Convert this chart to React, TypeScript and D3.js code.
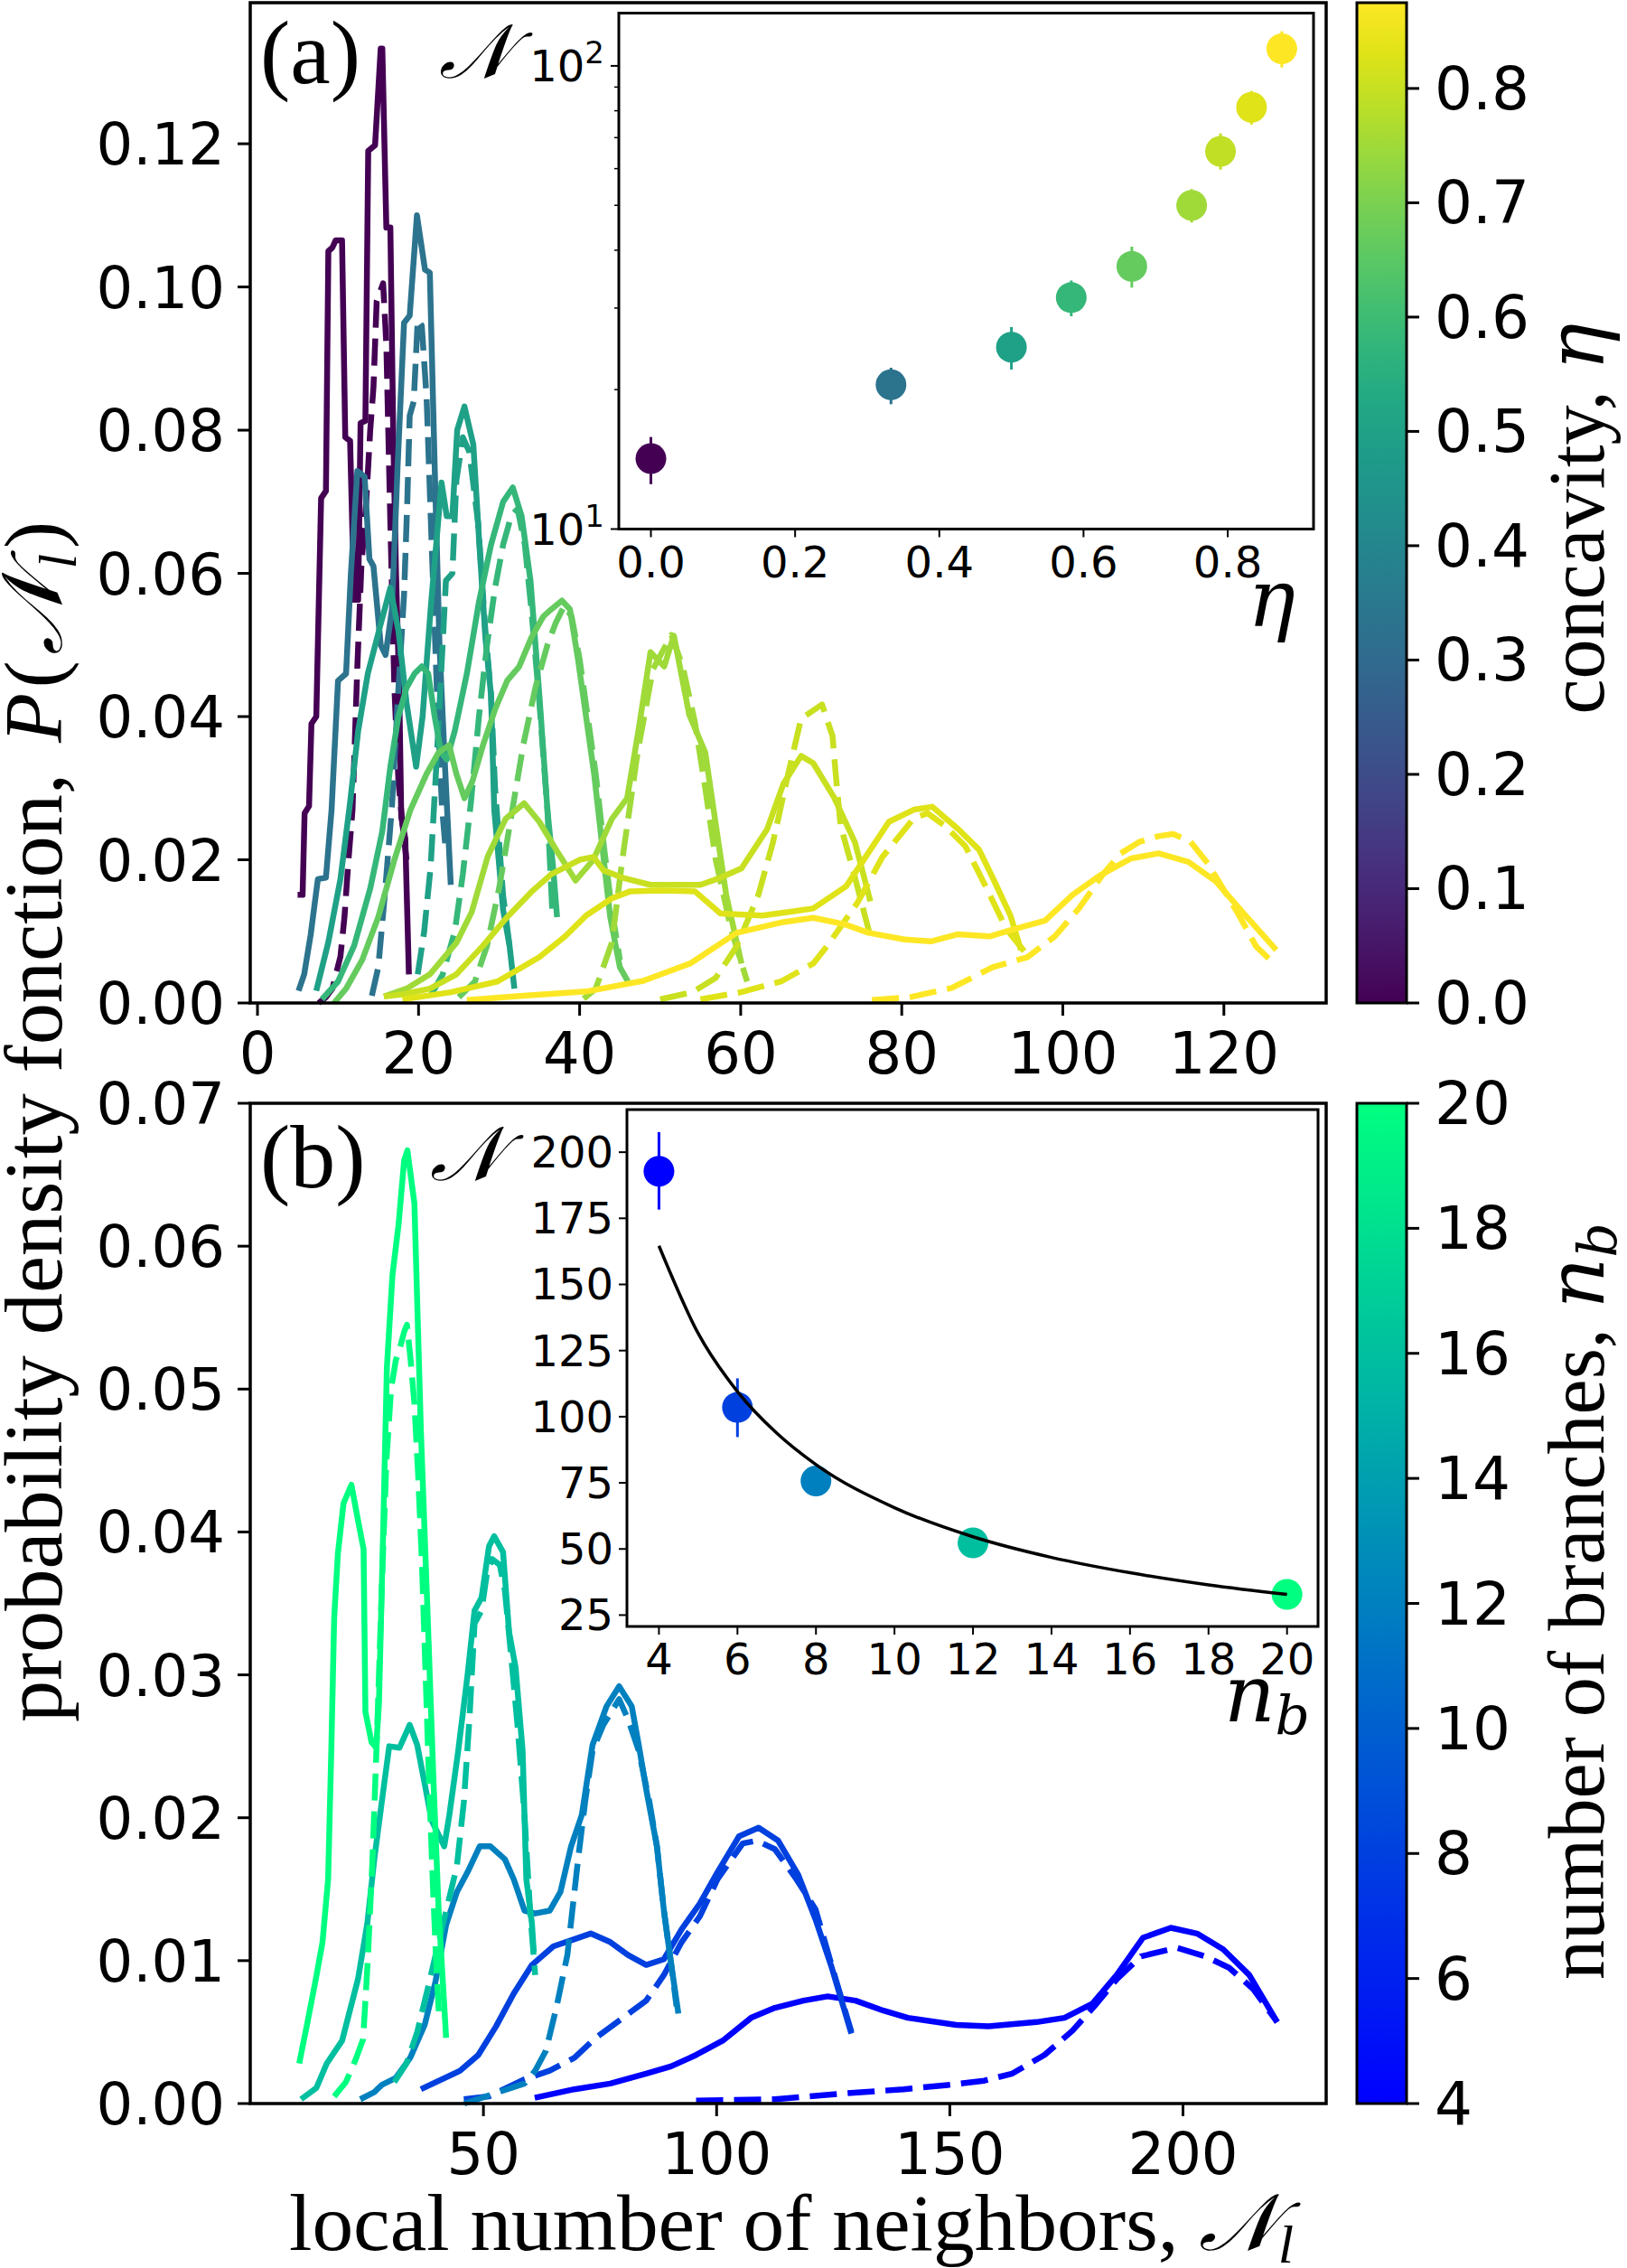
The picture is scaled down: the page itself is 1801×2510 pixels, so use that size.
import React from 'react';
import * as d3 from 'd3';

// ---------------- DATA ----------------
// Panel (a): concavity values and distributions (solid = measured, dashed = model)
const A_ETA = [0, 1 / 3, 0.5, 7 / 12, 2 / 3, 0.75, 0.8, 5 / 6, 0.875];

const A0_SOLID = [[4.98,0.0151],[5.6,0.0151],[5.85,0.0265],[6.4,0.0275],[6.7,0.039],[7.3,0.040],[7.9,0.0705],[8.5,0.0715],[8.8,0.105],[9.3,0.1055],[9.7,0.1065],[10.5,0.1065],[10.9,0.079],[11.5,0.0785],[12.0,0.0563],[12.5,0.0563],[12.8,0.081],[13.4,0.0813],[13.75,0.119],[14.6,0.1198],[15.3,0.1333],[15.5,0.1333],[16.0,0.1083],[16.5,0.1083],[16.85,0.080],[17.2,0.060],[17.6,0.044],[17.85,0.026],[18.35,0.023],[18.8,0.004]];
const A0_DASH = [[7.6,0.0],[8.5,0.0008],[9.3,0.002],[10.3,0.0065],[10.8,0.012],[11.3,0.02],[11.8,0.027],[12.4,0.047],[12.9,0.061],[13.5,0.070],[14.0,0.080],[14.4,0.086],[14.8,0.098],[15.6,0.1005],[16.0,0.092],[16.5,0.067],[17.0,0.044],[17.5,0.031],[18.0,0.025],[18.5,0.020]];
const A1_SOLID = [[5.1,0.0017],[5.8,0.004],[6.6,0.0095],[7.5,0.0173],[8.5,0.0175],[9.2,0.027],[10.0,0.045],[11.0,0.046],[11.6,0.060],[12.4,0.0743],[13.3,0.0735],[13.9,0.062],[14.4,0.061],[15.3,0.050],[15.9,0.0486],[16.7,0.055],[17.4,0.075],[18.2,0.095],[18.9,0.096],[19.8,0.110],[20.8,0.1024],[21.4,0.102],[22.0,0.075],[22.6,0.05],[23.2,0.035],[24.0,0.0165]];
const A1_DASH = [[14.2,0.001],[15.0,0.005],[15.8,0.015],[16.7,0.0275],[17.4,0.042],[18.2,0.057],[18.6,0.07],[18.9,0.082],[19.4,0.084],[19.9,0.0954],[20.4,0.0946],[21.0,0.0845],[21.6,0.065],[22.3,0.043],[22.9,0.0275],[23.4,0.021]];
const A2_SOLID = [[7.3,0.0017],[8.8,0.0085],[10.3,0.0173],[11.5,0.028],[12.5,0.038],[13.7,0.046],[15.2,0.0525],[16.5,0.058],[17.5,0.052],[18.5,0.042],[19.7,0.033],[20.5,0.040],[21.5,0.055],[22.85,0.0727],[23.5,0.068],[24.2,0.068],[24.8,0.080],[25.7,0.0833],[26.8,0.078],[27.5,0.065],[28.3,0.051],[29.0,0.043],[29.4,0.027],[30.5,0.013],[31.3,0.008],[31.9,0.002]];
const A2_DASH = [[19.9,0.004],[20.7,0.010],[21.5,0.019],[22.3,0.035],[23.4,0.059],[24.2,0.060],[24.7,0.073],[25.5,0.079],[26.3,0.077],[27.4,0.067],[28.3,0.052],[29.0,0.043],[29.5,0.030],[30.5,0.015],[31.3,0.008]];
const A3_SOLID = [[8.0,0.0005],[10,0.003],[12,0.008],[14,0.016],[15.5,0.024],[16.5,0.033],[17.5,0.040],[18.5,0.044],[19.5,0.046],[20.4,0.047],[21.2,0.046],[22,0.040],[22.8,0.035],[23.5,0.034],[24.5,0.038],[26,0.046],[27.5,0.056],[29,0.064],[30.5,0.070],[31.7,0.072],[32.8,0.068],[33.9,0.059],[35,0.043],[36,0.027],[36.7,0.019],[37.2,0.012]];
const A3_DASH = [[21.5,0.001],[23,0.004],[24.5,0.010],[25.5,0.018],[26.5,0.028],[27.5,0.040],[28.5,0.050],[29.5,0.058],[30.5,0.064],[31.5,0.068],[32.3,0.069],[33.2,0.064],[34,0.055],[35,0.042],[36,0.027],[36.6,0.013]];
const A4_SOLID = [[9.5,0.0],[11,0.002],[13,0.006],[15,0.012],[17,0.020],[19,0.027],[21,0.032],[22.5,0.035],[23.8,0.036],[24.7,0.032],[25.7,0.0286],[26.7,0.031],[28,0.036],[29.5,0.041],[31,0.045],[32.5,0.047],[34,0.051],[35.5,0.054],[36.5,0.055],[37.8,0.0562],[38.8,0.055],[39.8,0.048],[40.8,0.040],[41.8,0.032],[42.8,0.022],[43.8,0.012],[45,0.005],[46,0.003]];
const A4_DASH = [[25,0.0008],[27,0.003],[28.5,0.008],[30,0.016],[31.5,0.026],[33,0.036],[34.5,0.044],[36,0.050],[37,0.053],[38.1,0.0555],[39,0.054],[40,0.048],[41,0.040],[42,0.032],[43,0.022],[44,0.013],[45,0.006]];
const A5_SOLID = [[15.7,0.0009],[18.5,0.002],[21.4,0.004],[24.7,0.0084],[26.6,0.0127],[28.6,0.0205],[30.8,0.0257],[33.1,0.0279],[35,0.0253],[37.3,0.021],[39.5,0.0171],[41.7,0.020],[44,0.0257],[45.9,0.0286],[47.3,0.038],[48.8,0.049],[50.5,0.047],[51.7,0.0513],[53.6,0.0403],[55.6,0.035],[56.9,0.025],[58.2,0.0151],[60.1,0.0055]];
const A5_DASH = [[40.5,0.0006],[42,0.002],[44,0.0084],[45.3,0.020],[47.2,0.035],[49.1,0.0466],[51.4,0.0514],[52.8,0.047],[54.3,0.0393],[55.6,0.030],[56.9,0.020],[58.8,0.0103],[60.8,0.003]];
const A6_SOLID = [[15.7,0.0009],[18,0.0012],[21.4,0.002],[24.7,0.004],[28,0.008],[31,0.012],[34,0.0155],[36.5,0.018],[38.3,0.019],[40,0.020],[41.7,0.0204],[43,0.0185],[45.3,0.0175],[48.8,0.0165],[52,0.0165],[55,0.0165],[57.5,0.0175],[60.1,0.0188],[63.3,0.0243],[65.3,0.0306],[67.5,0.0345],[69,0.0335],[71.6,0.0287],[74.2,0.0224],[76.1,0.0142]];
const A6_DASH = [[50,0.0005],[54,0.0015],[56.9,0.0035],[59.5,0.0079],[62.2,0.0151],[64,0.0224],[65.9,0.032],[67.5,0.0397],[70.1,0.0417],[71.4,0.0373],[71.8,0.032],[72.4,0.0248],[74.2,0.0175],[76.3,0.0084]];
const A7_SOLID = [[18,0.0005],[24,0.0015],[29.8,0.003],[35,0.0064],[38.2,0.0093],[40.8,0.0122],[44,0.0146],[46.3,0.0156],[50,0.0157],[54.3,0.0156],[57.5,0.0125],[62.7,0.0122],[66.6,0.0128],[69,0.0132],[73.1,0.0163],[78.4,0.0253],[81.5,0.027],[83.8,0.0274],[87,0.0243],[89.6,0.0214],[91.5,0.017],[93.5,0.0122],[94.8,0.0074]];
const A7_DASH = [[55,0.0005],[60,0.0015],[65,0.003],[69,0.0055],[70.7,0.0079],[74.5,0.014],[77.6,0.0204],[81.5,0.0258],[83.2,0.0265],[85.3,0.0248],[87.9,0.0219],[90.5,0.0161],[93,0.0103],[95.8,0.0064]];
const A8_SOLID = [[26,0.0004],[33,0.001],[40.8,0.0016],[47.9,0.0031],[53.7,0.0055],[59.5,0.0098],[65.3,0.0113],[69,0.0119],[72.9,0.011],[75.9,0.0098],[80.2,0.0089],[83.6,0.0086],[87,0.0096],[90.9,0.0093],[93.9,0.0103],[97.8,0.0115],[101.2,0.0151],[104.6,0.0178],[108.5,0.0202],[111.9,0.0209],[115.6,0.0197],[119,0.017],[122.7,0.0122],[126.5,0.0074]];
const A8_DASH = [[76.3,0.0004],[81,0.0008],[86.2,0.0021],[91.3,0.005],[95.6,0.0064],[99,0.0093],[102,0.0132],[105,0.018],[107.2,0.0209],[109.5,0.0225],[111.9,0.0233],[113.7,0.0236],[115.8,0.0226],[118,0.0195],[120.1,0.0156],[122,0.012],[124,0.0079],[126.5,0.0052]];

const A_SOLID = [A0_SOLID, A1_SOLID, A2_SOLID, A3_SOLID, A4_SOLID, A5_SOLID, A6_SOLID, A7_SOLID, A8_SOLID];
const A_DASH = [A0_DASH, A1_DASH, A2_DASH, A3_DASH, A4_DASH, A5_DASH, A6_DASH, A7_DASH, A8_DASH];

// Panel (b): number of branches
const B_NB = [4, 6, 8, 12, 20];
const B4_SOLID = [[61,0.0004],[69.5,0.001],[77.2,0.0014],[84.9,0.0021],[90.2,0.0026],[95.6,0.0034],[101.3,0.0044],[107.4,0.006],[112.5,0.0067],[118.6,0.0072],[123.8,0.0075],[129.8,0.0072],[135.8,0.0065],[141,0.006],[151.4,0.0055],[158.3,0.0054],[168.6,0.0057],[174.6,0.006],[180.6,0.007],[185.8,0.009],[191.4,0.0116],[197.4,0.0123],[203,0.0119],[208.6,0.0108],[214.2,0.009],[220.2,0.0057]];
const B4_DASH = [[95.6,0.0002],[112.5,0.0003],[127.2,0.0007],[140.1,0.001],[149.6,0.0013],[157.4,0.0016],[163.4,0.0021],[170.3,0.0034],[176.3,0.0051],[181.5,0.007],[185.8,0.0087],[191,0.0103],[198.7,0.0109],[204.8,0.0103],[209.9,0.0095],[215.1,0.008],[220.2,0.0057]];
const B6_SOLID = [[36.6,0.001],[45,0.0023],[48.9,0.0034],[52.7,0.0054],[56.5,0.0077],[60.4,0.0097],[65,0.011],[69.5,0.0115],[73,0.0119],[77.2,0.0113],[81,0.0104],[84.9,0.0097],[88.7,0.0101],[92.5,0.0122],[96.4,0.014],[100.2,0.0162],[104.8,0.0187],[109,0.0193],[113.2,0.0184],[117.5,0.016],[121.2,0.0129],[124.6,0.0096],[128.9,0.0049]];
const B6_DASH = [[45.8,0.0003],[51.2,0.0005],[58.8,0.0017],[64.2,0.0023],[69.5,0.0032],[74.1,0.0046],[79.5,0.0059],[84.9,0.0072],[88.7,0.009],[92.5,0.0113],[96.4,0.0131],[100.2,0.0157],[105.6,0.0182],[108.6,0.0184],[112.5,0.0178],[117.1,0.0157],[121.2,0.0136],[125,0.0093],[128.9,0.005]];
const B8_SOLID = [[23.6,0.0003],[26.6,0.0008],[28.2,0.0013],[31.2,0.0018],[34.3,0.0032],[37.4,0.0055],[39.7,0.0085],[42,0.0125],[44.3,0.0148],[46.6,0.0162],[49.2,0.018],[51.5,0.018],[54.6,0.0171],[56.5,0.0157],[58.8,0.0135],[61.1,0.0133],[64.2,0.0135],[66.5,0.0148],[68.8,0.018],[71.1,0.0202],[73.4,0.0251],[76.4,0.0278],[79.1,0.0292],[81.8,0.0278],[83.3,0.0251],[84.9,0.022],[87.2,0.018],[88.7,0.0135],[90.2,0.0099],[91.8,0.0063]];
const B8_DASH = [[45.9,0.0],[54.2,0.0009],[58.8,0.0014],[61.1,0.0023],[63.4,0.0037],[65.7,0.0068],[68,0.0104],[70.3,0.0171],[71.8,0.0211],[73.4,0.0247],[75.7,0.0265],[79.1,0.0283],[81,0.0269],[83.3,0.0247],[85.6,0.0211],[87.2,0.018],[88.7,0.0135],[90.2,0.0099],[91.4,0.0068]];
const B12_SOLID = [[10.9,0.0003],[14.2,0.0011],[16.4,0.0028],[19.7,0.0044],[23.1,0.0087],[25.1,0.0126],[26.6,0.0171],[28.2,0.0211],[29.8,0.025],[32,0.0249],[34.2,0.0265],[35.8,0.0251],[37.4,0.0224],[38.9,0.0198],[41.6,0.018],[42.7,0.0202],[44.6,0.0247],[46.6,0.030],[48.1,0.0345],[49.6,0.0354],[51.2,0.039],[52.3,0.0397],[54.2,0.0386],[55.5,0.033],[56.9,0.0305],[58.4,0.0247],[59.2,0.0157],[60.4,0.0126],[60.8,0.0106]];
const B12_DASH = [[30.9,0.0015],[33.5,0.0028],[35.8,0.005],[38.1,0.0081],[40.4,0.0113],[44.3,0.0166],[45.8,0.0211],[47,0.0269],[48.1,0.0336],[49.6,0.0345],[50.8,0.0372],[51.9,0.0381],[53.5,0.0377],[54.6,0.0359],[55.8,0.0318],[57.3,0.0265],[58.8,0.0202],[60,0.0135],[61.1,0.009]];
const B20_SOLID = [[10.5,0.0028],[12.1,0.0054],[14.0,0.0086],[15.5,0.0113],[16.7,0.0157],[17.4,0.025],[18.0,0.034],[18.8,0.0385],[20.0,0.042],[21.7,0.0433],[23.0,0.041],[24.3,0.0388],[24.7,0.0274],[26.0,0.0253],[27.0,0.0249],[27.6,0.028],[28.5,0.040],[29.3,0.0515],[30.5,0.058],[31.8,0.0615],[33.0,0.066],[33.7,0.0667],[35.2,0.063],[36.6,0.047],[38.1,0.0336],[39.3,0.0225],[40.4,0.0135],[42.0,0.0046]];
const B20_DASH = [[18.0,0.0005],[20.5,0.0015],[22.5,0.003],[24.2,0.0045],[25.2,0.010],[26.2,0.017],[27.2,0.026],[28.2,0.036],[29.2,0.045],[30.2,0.050],[31.2,0.052],[32.2,0.053],[33.0,0.054],[33.6,0.0545],[34.4,0.052],[35.2,0.049],[36.0,0.044],[36.8,0.038],[37.6,0.030],[38.4,0.022],[39.2,0.015],[40.0,0.009],[40.5,0.006]];

const B_SOLID = [B4_SOLID, B6_SOLID, B8_SOLID, B12_SOLID, B20_SOLID];
const B_DASH = [B4_DASH, B6_DASH, B8_DASH, B12_DASH, B20_DASH];

// Inset (a): mean number of neighbours vs concavity
const IA_ETA = [0, 0.333, 0.5, 0.583, 0.667, 0.75, 0.79, 0.833, 0.875];
const IA_N = [14.2, 20.5, 24.7, 31.6, 36.9, 50.0, 65.4, 81.4, 108.9];
const IA_LO = [12.5, 18.6, 22.1, 28.8, 33.2, 45.9, 59.7, 74.7, 99.2];
const IA_HI = [15.8, 22.3, 27.3, 34.4, 40.7, 54.2, 71.5, 88.3, 118.8];

// Inset (b): mean number of neighbours vs number of branches
const IB_NB = [4, 6, 8, 12, 20];
const IB_N = [192.8, 103.5, 75.7, 52.3, 32.8];
const IB_LO = [178.3, 92.3, 72.5, 51.5, 32.0];
const IB_HI = [207.6, 114.5, 78.5, 53.0, 33.5];
const FIT_NB = [4, 5, 6, 7, 8, 10, 12, 14, 16, 18, 20];
const FIT_N = [164.6, 131.5, 109.5, 93.8, 81.9, 65.6, 54.6, 46.8, 41.0, 36.4, 32.8];

// Tick values
const A_XTICKS = [0, 20, 40, 60, 80, 100, 120];
const A_YTICKS = [0, 0.02, 0.04, 0.06, 0.08, 0.10, 0.12];
const B_XTICKS = [50, 100, 150, 200];
const B_YTICKS = [0, 0.01, 0.02, 0.03, 0.04, 0.05, 0.06, 0.07];
const CA_TICKS = [0, 0.1, 0.2, 0.3, 0.4, 0.5, 0.6, 0.7, 0.8];
const CB_TICKS = [4, 6, 8, 10, 12, 14, 16, 18, 20];
const IA_XTICKS = [0, 0.2, 0.4, 0.6, 0.8];
const IA_YMINOR = [20, 30, 40, 50, 60, 70, 80, 90];
const IB_XTICKS = [4, 6, 8, 10, 12, 14, 16, 18, 20];
const IB_YTICKS = [25, 50, 75, 100, 125, 150, 175, 200];

// ---------------- STYLE ----------------
const SANS = "'DejaVu Sans', sans-serif";
const SERIF = "'Liberation Serif', 'DejaVu Serif', serif";
const MATH = "'DejaVu Serif', 'Liberation Serif', serif";
const TICK_FS = 64;
const CBAR_FS = 66;
const INSET_FS = 48;
const LABEL_FS = 88;
const LW = 6.5;
const DASH = '30 12';

const winter = (t: number) => d3.rgb(0, Math.round(255 * t), Math.round(255 * (1 - 0.5 * t))).toString();
const viridisEta = (e: number) => d3.interpolateViridis(e / 0.875);

// ---------------- LAYOUT ----------------
const PA = { l: 277, r: 1468, t: 3, b: 1110 };
const PB = { l: 277, r: 1468, t: 1221, b: 2328 };
const IA = { l: 685, r: 1454, t: 14.5, b: 585.5 };
const IB = { l: 694, r: 1459, t: 1228, b: 1800 };
const CB = { l: 1502, r: 1557 };

export default function App() {
  const xA = d3.scaleLinear().domain([-0.9, 132.7]).range([PA.l, PA.r]);
  const yA = d3.scaleLinear().domain([0, 0.1397]).range([PA.b, PA.t]);
  const xB = d3.scaleLinear().domain([0, 230.7]).range([PB.l, PB.r]);
  const yB = d3.scaleLinear().domain([0, 0.07]).range([PB.b, PB.t]);
  const xIA = d3.scaleLinear().domain([-0.0445, 0.919]).range([IA.l, IA.r]);
  const yIA = d3.scaleLog().domain([10, 130]).range([IA.b, IA.t]);
  const xIB = d3.scaleLinear().domain([3.185, 20.79]).range([IB.l, IB.r]);
  const yIB = d3.scaleLinear().domain([20.7, 216.1]).range([IB.b, IB.t]);
  const cA = d3.scaleLinear().domain([0, 0.875]).range([PA.b, PA.t]);
  const cB = d3.scaleLinear().domain([4, 20]).range([PB.b, PB.t]);

  const lineA = d3.line<number[]>().x(d => xA(d[0])).y(d => yA(d[1]));
  const lineB = d3.line<number[]>().x(d => xB(d[0])).y(d => yB(d[1]));
  const fitLine = d3.line<number>().x((_, i) => xIB(FIT_NB[i])).y(d => yIB(d)).curve(d3.curveMonotoneX);

  const gradStops = d3.range(0, 1.0001, 0.05);

  const Nsym = (fs: number) => (
    <tspan fontFamily={MATH} fontStyle="italic" fontSize={fs}>𝒩</tspan>
  );

  return (
    <svg width={1801} height={2510} style={{ position: 'absolute', left: 0, top: 0, background: '#fff' }}
      xmlns="http://www.w3.org/2000/svg">
      <defs>
        <linearGradient id="gViridis" x1="0" y1="1" x2="0" y2="0">
          {gradStops.map(t => <stop key={t} offset={t} stopColor={d3.interpolateViridis(t)} />)}
        </linearGradient>
        <linearGradient id="gWinter" x1="0" y1="1" x2="0" y2="0">
          {gradStops.map(t => <stop key={t} offset={t} stopColor={winter(t)} />)}
        </linearGradient>
      </defs>
      <rect x={0} y={0} width={1801} height={2510} fill="#fff" />

      {/* ---------- Panel (a) curves ---------- */}
      <g fill="none" strokeWidth={LW} strokeLinejoin="round">
        {A_ETA.map((e, i) => (
          <g key={i} stroke={viridisEta(e)}>
            <path d={lineA(A_SOLID[i]) || ''} />
            <path d={lineA(A_DASH[i]) || ''} strokeDasharray={DASH} />
          </g>
        ))}
      </g>

      {/* Panel (a) axes */}
      <rect x={PA.l} y={PA.t} width={PA.r - PA.l} height={PA.b - PA.t} fill="none" stroke="#000" strokeWidth={3.5} />
      {A_XTICKS.map(v => (
        <g key={v}>
          <line x1={xA(v)} x2={xA(v)} y1={PA.b} y2={PA.b + 14} stroke="#000" strokeWidth={3} />
          <text x={xA(v)} y={PA.b + 78} textAnchor="middle" fontFamily={SANS} fontSize={TICK_FS}>{v}</text>
        </g>
      ))}
      {A_YTICKS.map(v => (
        <g key={v}>
          <line x1={PA.l - 14} x2={PA.l} y1={yA(v)} y2={yA(v)} stroke="#000" strokeWidth={3} />
          <text x={PA.l - 28} y={yA(v) + 23} textAnchor="end" fontFamily={SANS} fontSize={TICK_FS}>{v.toFixed(2)}</text>
        </g>
      ))}
      <text x={288} y={92} fontFamily={SERIF} fontSize={100}>(a)</text>
      <text x={486} y={86} fontSize={84}>{Nsym(84)}</text>

      {/* Inset (a) */}
      <rect x={IA.l} y={IA.t} width={IA.r - IA.l} height={IA.b - IA.t} fill="#fff" stroke="#000" strokeWidth={3} />
      {IA_XTICKS.map(v => (
        <g key={v}>
          <line x1={xIA(v)} x2={xIA(v)} y1={IA.b} y2={IA.b + 9} stroke="#000" strokeWidth={2} />
          <text x={xIA(v)} y={IA.b + 53} textAnchor="middle" fontFamily={SANS} fontSize={INSET_FS}>{v.toFixed(1)}</text>
        </g>
      ))}
      {[10, 100].map((v, k) => (
        <g key={v}>
          <line x1={IA.l - 9} x2={IA.l} y1={yIA(v)} y2={yIA(v)} stroke="#000" strokeWidth={2} />
          <text x={IA.l - 16} y={yIA(v) + 17} textAnchor="end" fontFamily={SANS} fontSize={INSET_FS}>
            10<tspan fontSize={34} dy={-20}>{k + 1}</tspan>
          </text>
        </g>
      ))}
      {IA_YMINOR.map(v => (
        <line key={v} x1={IA.l - 5} x2={IA.l} y1={yIA(v)} y2={yIA(v)} stroke="#000" strokeWidth={1.5} />
      ))}
      {IA_ETA.map((e, i) => (
        <g key={i} fill={viridisEta(e)} stroke={viridisEta(e)}>
          <line x1={xIA(e)} x2={xIA(e)} y1={yIA(IA_LO[i])} y2={yIA(IA_HI[i])} strokeWidth={3} />
          <circle cx={xIA(e)} cy={yIA(IA_N[i])} r={17} stroke="none" />
        </g>
      ))}
      <text x={1434} y={693} textAnchor="end" fontFamily={MATH} fontStyle="italic" fontSize={LABEL_FS}>η</text>

      {/* Colorbar (a) */}
      <rect x={CB.l} y={PA.t} width={CB.r - CB.l} height={PA.b - PA.t} fill="url(#gViridis)" stroke="#000" strokeWidth={3} />
      {CA_TICKS.map(v => (
        <g key={v}>
          <line x1={CB.r} x2={CB.r + 14} y1={cA(v)} y2={cA(v)} stroke="#000" strokeWidth={3} />
          <text x={CB.r + 31} y={cA(v) + 23} fontFamily={SANS} fontSize={CBAR_FS}>{v.toFixed(1)}</text>
        </g>
      ))}
      <text transform={`translate(1775,574) rotate(-90)`} textAnchor="middle" fontFamily={SERIF} fontSize={LABEL_FS}>
        concavity, <tspan fontFamily={MATH} fontStyle="italic">η</tspan>
      </text>

      {/* ---------- Panel (b) curves ---------- */}
      <g fill="none" strokeWidth={LW} strokeLinejoin="round">
        {B_NB.map((n, i) => (
          <g key={n} stroke={winter(i / 4)}>
            <path d={lineB(B_SOLID[i]) || ''} />
            <path d={lineB(B_DASH[i]) || ''} strokeDasharray={DASH} />
          </g>
        ))}
      </g>

      <rect x={PB.l} y={PB.t} width={PB.r - PB.l} height={PB.b - PB.t} fill="none" stroke="#000" strokeWidth={3.5} />
      {B_XTICKS.map(v => (
        <g key={v}>
          <line x1={xB(v)} x2={xB(v)} y1={PB.b} y2={PB.b + 14} stroke="#000" strokeWidth={3} />
          <text x={xB(v)} y={PB.b + 78} textAnchor="middle" fontFamily={SANS} fontSize={TICK_FS}>{v}</text>
        </g>
      ))}
      {B_YTICKS.map(v => (
        <g key={v}>
          <line x1={PB.l - 14} x2={PB.l} y1={yB(v)} y2={yB(v)} stroke="#000" strokeWidth={3} />
          <text x={PB.l - 28} y={yB(v) + 23} textAnchor="end" fontFamily={SANS} fontSize={TICK_FS}>{v.toFixed(2)}</text>
        </g>
      ))}
      <text x={288} y={1314} fontFamily={SERIF} fontSize={100}>(b)</text>
      <text x={476} y={1306} fontSize={84}>{Nsym(84)}</text>

      {/* Inset (b) */}
      <rect x={IB.l} y={IB.t} width={IB.r - IB.l} height={IB.b - IB.t} fill="#fff" stroke="#000" strokeWidth={3} />
      {IB_XTICKS.map(v => (
        <g key={v}>
          <line x1={xIB(v)} x2={xIB(v)} y1={IB.b} y2={IB.b + 9} stroke="#000" strokeWidth={2} />
          <text x={xIB(v)} y={IB.b + 53} textAnchor="middle" fontFamily={SANS} fontSize={INSET_FS}>{v}</text>
        </g>
      ))}
      {IB_YTICKS.map(v => (
        <g key={v}>
          <line x1={IB.l - 9} x2={IB.l} y1={yIB(v)} y2={yIB(v)} stroke="#000" strokeWidth={2} />
          <text x={IB.l - 15} y={yIB(v) + 17} textAnchor="end" fontFamily={SANS} fontSize={INSET_FS}>{v}</text>
        </g>
      ))}
      {IB_NB.map((n, i) => (
        <g key={n} fill={winter(i / 4)} stroke={winter(i / 4)}>
          <line x1={xIB(n)} x2={xIB(n)} y1={yIB(IB_LO[i])} y2={yIB(IB_HI[i])} strokeWidth={3} />
          <circle cx={xIB(n)} cy={yIB(IB_N[i])} r={17} stroke="none" />
        </g>
      ))}
      <path d={fitLine(FIT_N) || ''} fill="none" stroke="#000" strokeWidth={3.5} />
      <text x={1450} y={1905} textAnchor="end" fontFamily={MATH} fontStyle="italic" fontSize={LABEL_FS}>
        n<tspan fontSize={60} dy={14}>b</tspan>
      </text>

      {/* Colorbar (b) */}
      <rect x={CB.l} y={PB.t} width={CB.r - CB.l} height={PB.b - PB.t} fill="url(#gWinter)" stroke="#000" strokeWidth={3} />
      {CB_TICKS.map(v => (
        <g key={v}>
          <line x1={CB.r} x2={CB.r + 14} y1={cB(v)} y2={cB(v)} stroke="#000" strokeWidth={3} />
          <text x={CB.r + 31} y={cB(v) + 23} fontFamily={SANS} fontSize={CBAR_FS}>{v}</text>
        </g>
      ))}
      <text transform={`translate(1775,1772) rotate(-90)`} textAnchor="middle" fontFamily={SERIF} fontSize={LABEL_FS}>
        number of branches, <tspan fontFamily={MATH} fontStyle="italic">n</tspan><tspan fontFamily={MATH} fontStyle="italic" fontSize={60} dy={14}>b</tspan>
      </text>

      {/* Shared labels */}
      <text transform={`translate(68,1906) rotate(-90)`} textAnchor="start" fontFamily={SERIF} fontSize={90}
        textLength={1050} lengthAdjust="spacingAndGlyphs">
        probability density fonction,
      </text>
      <text transform={`translate(68,822) rotate(-90)`} textAnchor="start" fontFamily={SERIF} fontSize={90}
        textLength={245} lengthAdjust="spacing">
        <tspan fontStyle="italic">P</tspan>({Nsym(94)}<tspan fontStyle="italic" fontSize={60} dy={16}>l</tspan><tspan dy={-16}>)</tspan>
      </text>
      <text x={876} y={2490} textAnchor="middle" fontFamily={SERIF} fontSize={LABEL_FS}
        textLength={1112} lengthAdjust="spacingAndGlyphs">
        local number of neighbors, {Nsym(LABEL_FS)}<tspan fontFamily={SERIF} fontStyle="italic" fontSize={60} dy={14}>l</tspan>
      </text>
    </svg>
  );
}
